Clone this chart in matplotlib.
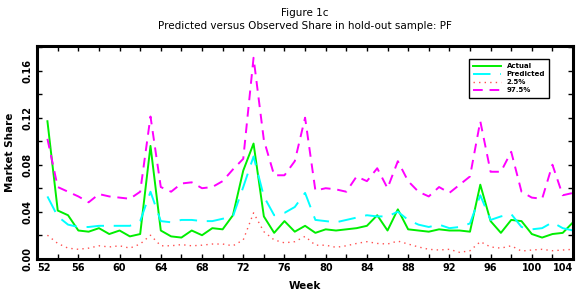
import matplotlib
matplotlib.use("Agg")
import matplotlib.pyplot as plt
from matplotlib.ticker import MultipleLocator

weeks = list(range(53, 105))

actual = [0.117, 0.041, 0.037, 0.024, 0.023, 0.026, 0.021, 0.024, 0.019, 0.021,
          0.096, 0.024, 0.019, 0.018, 0.024, 0.020, 0.026, 0.025, 0.037, 0.075,
          0.098, 0.036, 0.022, 0.032, 0.023, 0.028, 0.022, 0.025, 0.024, 0.025,
          0.026, 0.028, 0.037, 0.024, 0.042, 0.025, 0.024, 0.023, 0.025, 0.024,
          0.024, 0.023, 0.063, 0.032, 0.022, 0.033, 0.032, 0.021, 0.018, 0.021,
          0.022, 0.031]

predicted = [0.053, 0.036, 0.029, 0.027, 0.027, 0.028, 0.028, 0.028, 0.028, 0.032,
             0.057, 0.032, 0.031, 0.033, 0.033, 0.032, 0.032, 0.034, 0.036, 0.061,
             0.087, 0.053, 0.037, 0.039, 0.044, 0.056, 0.033, 0.032, 0.031, 0.033,
             0.035, 0.037, 0.036, 0.036, 0.040, 0.033, 0.029, 0.027, 0.029, 0.026,
             0.027, 0.030, 0.054, 0.033, 0.036, 0.038, 0.027, 0.025, 0.026, 0.031,
             0.026, 0.024]

lower = [0.020, 0.013, 0.009, 0.008, 0.009, 0.011, 0.010, 0.011, 0.009, 0.0125,
         0.020, 0.011, 0.011, 0.012, 0.011, 0.0115, 0.0125, 0.0125, 0.011, 0.016,
         0.039, 0.023, 0.016, 0.0135, 0.0145, 0.019, 0.0115, 0.0115, 0.0097, 0.011,
         0.013, 0.0145, 0.013, 0.0125, 0.015, 0.0125, 0.010, 0.008, 0.0074, 0.008,
         0.0054, 0.0068, 0.0145, 0.010, 0.009, 0.011, 0.0065, 0.0074, 0.008, 0.0068,
         0.0074, 0.008]

upper = [0.102, 0.061, 0.057, 0.053, 0.048, 0.055, 0.053, 0.052, 0.051, 0.057,
         0.121, 0.061, 0.057, 0.064, 0.065, 0.060, 0.061, 0.066, 0.076, 0.085,
         0.171, 0.101, 0.071, 0.071, 0.083, 0.120, 0.058, 0.060, 0.059, 0.057,
         0.070, 0.066, 0.077, 0.060, 0.083, 0.066, 0.057, 0.053, 0.061, 0.056,
         0.063, 0.070, 0.117, 0.074, 0.074, 0.091, 0.057, 0.052, 0.051, 0.080,
         0.054, 0.056]

week_ticks = list(range(52, 105, 4))

fig = plt.figure(figsize=(5.8, 2.95), dpi=100)
ax = fig.add_axes([0.064, 0.123, 0.924, 0.721])

ax.plot(weeks, actual, color='#00ee00', lw=1.4, label='Actual')
ax.plot(weeks, predicted, color='#00ffff', lw=1.4, dashes=(9, 5), label='Predicted')
ax.plot(weeks, lower, color='#ff5050', lw=1.0, dashes=(1, 3), label='2.5%')
ax.plot(weeks, upper, color='#ff00ff', lw=1.4, dashes=(5, 3.5), label='97.5%')

ax.set_xlim(52, 104)
ax.set_ylim(0, 0.181)
ax.set_xticks(week_ticks)
ax.xaxis.set_minor_locator(MultipleLocator(2))
ax.yaxis.set_major_locator(MultipleLocator(0.04))
ax.yaxis.set_minor_locator(MultipleLocator(0.02))
ax.yaxis.set_major_formatter(plt.FuncFormatter(lambda v, p: f'{v:.2f}'))

ax.tick_params(which='both', direction='in', top=True, right=True,
               length=3.5, width=1, labelsize=7)
ax.tick_params(axis='x', pad=3)
ax.tick_params(axis='y', pad=3)
for lab in ax.get_xticklabels() + ax.get_yticklabels():
    lab.set_fontweight('bold')
for lab in ax.get_yticklabels():
    lab.set_rotation(90)
    lab.set_va('center')
xt = ax.xaxis.get_major_ticks()
xt[0].label1.set_horizontalalignment('left')
xt[-1].label1.set_horizontalalignment('right')

for s in ax.spines.values():
    s.set_linewidth(2.2)

ax.set_xlabel('Week', fontsize=7.5, fontweight='bold', labelpad=6)
ax.set_ylabel('Market Share', fontsize=7.5, fontweight='bold', labelpad=6)

fig.text(0.526, 0.955, 'Figure 1c', ha='center', va='center', fontsize=7.5)
fig.text(0.526, 0.912, 'Predicted versus Observed Share in hold-out sample: PF',
         ha='center', va='center', fontsize=7.5)

leg = ax.legend(loc='upper left', bbox_to_anchor=(0.806, 0.939), borderaxespad=0,
                fontsize=5, handlelength=4.0, handletextpad=0.8,
                labelspacing=0.3, fancybox=False, edgecolor='black',
                framealpha=1, borderpad=0.6)
leg.get_frame().set_linewidth(1.0)
for t in leg.get_texts():
    t.set_fontweight('bold')

fig.savefig('out.png', dpi=100)
